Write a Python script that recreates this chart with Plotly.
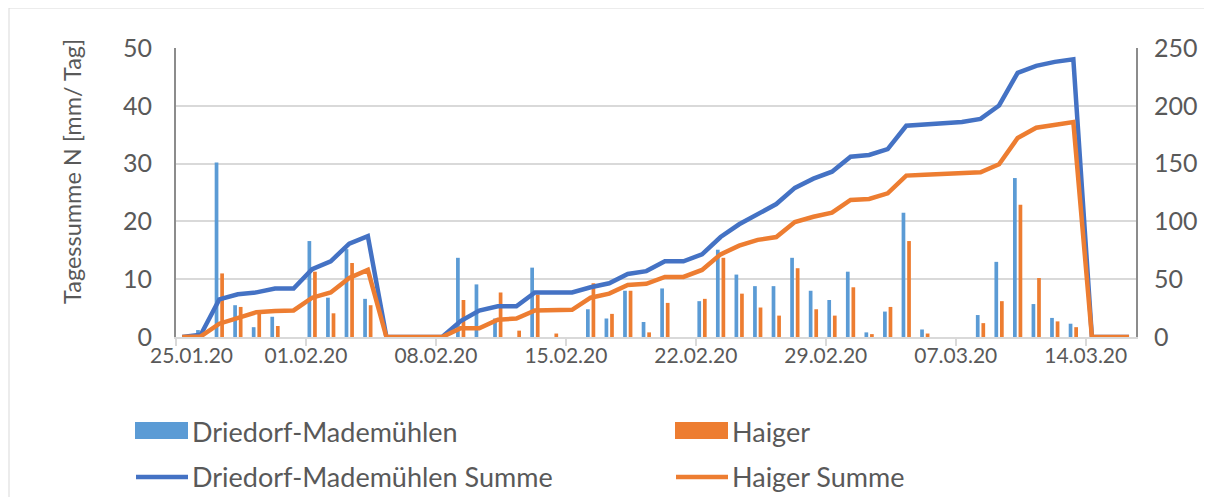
import pandas as pd
import plotly.graph_objects as go

# ---------------- data ----------------
dates = pd.date_range("2020-01-25 08:00", "2020-03-16 08:00", freq="D")

driedorf = [0, 1.2, 30.2, 5.5, 1.7, 3.5, 0, 16.6, 6.8, 15.2, 6.6,
            0, 0, 0, 0,
            13.7, 9.1, 3.2, 0, 12.0, 0, 0,
            4.8, 3.2, 8.0, 2.6, 8.4, 0, 6.2, 15.1, 10.8, 8.8,
            8.8, 13.7, 8.0, 6.4, 11.3, 0.8, 4.4, 21.5, 1.3,
            0, 0,
            3.8, 13.0, 27.5, 5.7, 3.3, 2.3,
            0, 0, 0]

haiger = [0, 0, 11.0, 5.2, 4.4, 1.9, 0, 11.3, 4.1, 12.8, 5.5,
          0, 0, 0, 0,
          6.4, 0, 7.7, 1.1, 7.3, 0.6, 0,
          9.3, 4.0, 8.0, 0.8, 5.9, 0, 6.6, 13.7, 7.5, 5.1,
          3.7, 11.9, 4.8, 3.7, 8.6, 0.5, 5.2, 16.6, 0.6,
          0, 0,
          2.4, 6.2, 22.9, 10.2, 2.7, 1.7,
          0, 0, 0]

driedorf_sum = [0, 2, 32.5, 37, 38.6, 42, 42, 58.7, 65.5, 80.7, 87.3,
                0, 0, 0, 0,
                13.7, 22.8, 26.5, 26.5, 38.5, 38.5, 38.5,
                43, 46.5, 54.5, 57, 65.5, 65.5, 71.5, 86.5, 97.5, 106.5,
                115, 129, 137, 143, 156, 157.5, 162.5, 182.7, 184,
                184.6, 186,
                188.7, 200.3, 228.5, 234.6, 238, 240.2,
                0, 0, 0]

haiger_sum = [0, 0.5, 11.5, 16.5, 21.5, 22.5, 23, 34, 38.5, 51, 58,
              0, 0, 0, 0,
              7.5, 7.5, 15, 16, 23, 23.5, 23.5,
              34, 37.5, 45, 46, 52, 52, 58, 71.5, 79, 84,
              86.5, 99.5, 104, 107.5, 118.5, 119.4, 124.3, 139.6, 140.3,
              141, 141.7,
              142.5, 149.4, 172.1, 181, 184, 186,
              0, 0, 0]

tick_dates = ["2020-01-25", "2020-02-01", "2020-02-08", "2020-02-15",
              "2020-02-22", "2020-02-29", "2020-03-07", "2020-03-14"]
tick_labels = ["25.01.20", "01.02.20", "08.02.20", "15.02.20",
               "22.02.20", "29.02.20", "07.03.20", "14.03.20"]

names = ["Driedorf-Mademühlen", "Haiger",
         "Driedorf-Mademühlen Summe", "Haiger Summe"]
y_title = "Tagessumme N [mm/ Tag]"

# ---------------- style ----------------
C_BLUE_BAR = "#5B9BD5"
C_ORANGE = "#ED7D31"
C_BLUE_LINE = "#4472C4"
TXT = "#595959"
GRID = "#D9D9D9"
FONT = "Lato"

PAGE_OFF = 8                      # default body margin of the html page
W, H = 1212 - PAGE_OFF, 497 - PAGE_OFF
# plot area in page pixels: x 176..1136, y 48..337
ML, MR = 176 - PAGE_OFF, 1212 - 1136
MT, MB = 48 - PAGE_OFF, 497 - 337
PW, PH = W - ML - MR, H - MT - MB

DAY = 86400000
bar_w = 0.2 * DAY


def px(x):
    """page pixel x -> paper coordinate"""
    return (x - PAGE_OFF - ML) / PW


def py(y):
    """page pixel y -> paper coordinate"""
    return (H - MB - (y - PAGE_OFF)) / PH


fig = go.Figure()
fig.add_trace(go.Bar(x=dates, y=driedorf, name=names[0], marker_color=C_BLUE_BAR,
                     width=bar_w, offset=-0.25 * DAY, marker_line_width=0,
                     showlegend=False))
fig.add_trace(go.Bar(x=dates, y=haiger, name=names[1], marker_color=C_ORANGE,
                     width=bar_w, offset=0.05 * DAY, marker_line_width=0,
                     showlegend=False))
fig.add_trace(go.Scatter(x=dates, y=driedorf_sum, name=names[2], mode="lines",
                         line=dict(color=C_BLUE_LINE, width=4.5), yaxis="y2",
                         showlegend=False))
fig.add_trace(go.Scatter(x=dates, y=haiger_sum, name=names[3], mode="lines",
                         line=dict(color=C_ORANGE, width=4.5), yaxis="y2",
                         showlegend=False))

shapes = [
    # outer chart border
    dict(type="rect", xref="paper", yref="paper",
         x0=px(9), x1=px(1206), y0=py(505), y1=py(8),
         line=dict(color=GRID, width=1), fillcolor="rgba(0,0,0,0)", layer="below"),
    # legend symbols
    dict(type="rect", xref="paper", yref="paper", x0=px(135), x1=px(188),
         y0=py(439), y1=py(422), fillcolor=C_BLUE_BAR, line_width=0),
    dict(type="rect", xref="paper", yref="paper", x0=px(675), x1=px(728),
         y0=py(439), y1=py(422), fillcolor=C_ORANGE, line_width=0),
    dict(type="line", xref="paper", yref="paper", x0=px(136), x1=px(188),
         y0=py(477), y1=py(477), line=dict(color=C_BLUE_LINE, width=4.5)),
    dict(type="line", xref="paper", yref="paper", x0=px(676), x1=px(728),
         y0=py(477), y1=py(477), line=dict(color=C_ORANGE, width=4.5)),
]

leg_font = dict(family=FONT, size=27, color=TXT)
tick_font = dict(family=FONT, size=21, color=TXT)
annotations = [
    dict(text=names[0], x=px(190), y=py(431), xref="paper", yref="paper",
         xanchor="left", yanchor="middle", showarrow=False, font=leg_font),
    dict(text=names[1], x=px(730), y=py(431), xref="paper", yref="paper",
         xanchor="left", yanchor="middle", showarrow=False, font=leg_font),
    dict(text=names[2], x=px(190), y=py(476), xref="paper", yref="paper",
         xanchor="left", yanchor="middle", showarrow=False, font=leg_font),
    dict(text=names[3], x=px(730), y=py(476), xref="paper", yref="paper",
         xanchor="left", yanchor="middle", showarrow=False, font=leg_font),
    dict(text=y_title, x=px(72), y=py(172), xref="paper", yref="paper",
         xanchor="center", yanchor="middle", textangle=-90, showarrow=False,
         font=dict(family=FONT, size=23.5, color=TXT)),
    # first date label is pushed right (kept inside the plot start), as in the original
    dict(text=tick_labels[0], x=px(191), y=py(354), xref="paper", yref="paper",
         xanchor="center", yanchor="middle", showarrow=False, font=tick_font),
]

fig.update_layout(
    width=W, height=H,
    margin=dict(l=ML, r=MR, t=MT, b=MB, autoexpand=False),
    paper_bgcolor="white", plot_bgcolor="white",
    barmode="overlay",
    font=dict(family=FONT, color=TXT),
    xaxis=dict(type="date", range=["2020-01-25 00:00", "2020-03-16 17:00"],
               tickmode="array", tickvals=tick_dates,
               ticktext=[""] + tick_labels[1:],
               ticks="outside", ticklen=7, tickcolor=GRID, tickwidth=1.5,
               ticklabelstandoff=-8,
               showgrid=False, showline=True, linecolor=GRID, linewidth=1.5,
               tickfont=tick_font,
               zeroline=False),
    yaxis=dict(range=[0, 50], dtick=10, showgrid=True, gridcolor=GRID, gridwidth=1.5,
               showline=True, linecolor="#8C8C8C", linewidth=2, zeroline=False,
               tickfont=dict(family=FONT, size=25, color=TXT), ticklabelstandoff=17),
    yaxis2=dict(range=[0, 250], dtick=50, overlaying="y", side="right",
                showgrid=False, showline=True, linecolor="#8C8C8C", linewidth=2,
                zeroline=False, ticklabelstandoff=11,
                tickfont=dict(family=FONT, size=25, color=TXT)),
    shapes=shapes,
    annotations=annotations,
)

fig.write_html("out.html")
